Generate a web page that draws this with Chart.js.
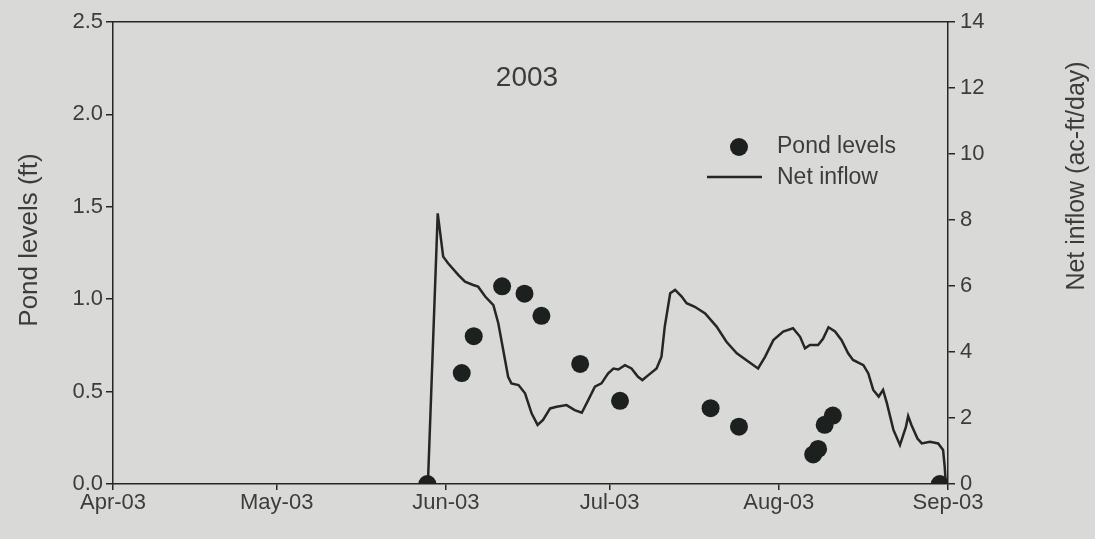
<!DOCTYPE html>
<html>
<head>
<meta charset="utf-8">
<script src="https://cdn.jsdelivr.net/npm/chart.js@4.4.1/dist/chart.umd.min.js"></script>
<style>
  html, body { margin: 0; padding: 0; background: #d9d9d7; }
  #wrap { width: 1095px; height: 539px; }
</style>
</head>
<body>
<div id="wrap"><canvas id="chart" width="1095" height="539"></canvas></div>
<script>
'use strict';

// x values are days counted from 1 Apr 2003
var monthTicks = [0, 30, 61, 91, 122, 153],
	monthLabels = ['Apr-03', 'May-03', 'Jun-03', 'Jul-03', 'Aug-03', 'Sep-03'];

// pond level readings (ft)
var pondDays = [57.6, 63.9, 66.1, 71.3, 75.4, 78.5, 85.6, 92.9, 109.5, 114.7,
		128.3, 129.2, 130.4, 131.9, 151.5],
	pondLevels = [0, 0.6, 0.8, 1.07, 1.03, 0.91, 0.65, 0.45, 0.41, 0.31,
		0.16, 0.19, 0.32, 0.37, 0];

// net inflow (ac-ft/day)
var inflowDays = [57.7, 59.5, 60.5, 61.4, 63.3, 64.5, 66.0, 66.9, 68.2, 69.7,
		70.6, 71.5, 72.4, 73.0, 74.3, 75.5, 76.7, 77.8, 78.8, 80.1,
		81.3, 83.1, 84.6, 85.9, 87.1, 88.3, 89.5, 90.7, 91.7, 92.6,
		93.8, 95.0, 96.2, 97.0, 98.1, 99.6, 100.5, 101.1, 102.1, 103.0,
		104.2, 105.1, 106.6, 108.5, 110.6, 112.4, 114.3, 116.4, 118.2, 119.5,
		121.0, 122.8, 124.6, 125.9, 126.8, 127.7, 129.2, 130.1, 131.1, 132.3,
		133.5, 134.7, 135.6, 137.5, 138.4, 139.3, 140.3, 141.1, 141.8, 143.0,
		144.2, 145.3, 145.7, 146.3, 147.4, 148.2, 149.7, 151.2, 152.1, 152.4,
		152.6],
	inflowValues = [0, 8.2, 6.89, 6.69, 6.33, 6.13, 6.03, 5.98, 5.68, 5.42,
		4.87, 4.06, 3.25, 3.05, 3.0, 2.75, 2.14, 1.79, 1.94, 2.29,
		2.34, 2.39, 2.24, 2.16, 2.55, 2.95, 3.05, 3.35, 3.5, 3.47,
		3.6, 3.5, 3.25, 3.15, 3.3, 3.5, 3.86, 4.77, 5.78, 5.88,
		5.68, 5.48, 5.37, 5.17, 4.77, 4.31, 3.96, 3.71, 3.5, 3.86,
		4.36, 4.62, 4.72, 4.46, 4.11, 4.21, 4.21, 4.4, 4.75, 4.62,
		4.36, 3.96, 3.76, 3.6, 3.35, 2.85, 2.65, 2.85, 2.45, 1.64,
		1.18, 1.74, 2.06, 1.79, 1.38, 1.23, 1.28, 1.23, 1.03, 0.52,
		0];

var FONT = "'Liberation Sans', Arial, sans-serif",
	TEXT = '#3c3c3c',
	INK = '#262626';

function toPoints(xs, ys) {
	return xs.map(function (x, i) {
		return { x: x, y: ys[i] };
	});
}

// background, year label, legend and the two rotated axis titles
var decorations = {
	id: 'decorations',
	beforeDraw: function (chart) {
		var ctx = chart.ctx;
		ctx.save();
		ctx.fillStyle = '#d9d9d7';
		ctx.fillRect(0, 0, chart.width, chart.height);
		ctx.restore();
	},
	afterDraw: function (chart) {
		var ctx = chart.ctx;
		ctx.save();
		ctx.fillStyle = TEXT;
		ctx.textBaseline = 'middle';
		ctx.textAlign = 'center';
		ctx.font = '28px ' + FONT;
		ctx.fillText('2003', 527, 78);

		// legend
		ctx.font = '23px ' + FONT;
		ctx.textAlign = 'left';
		ctx.fillStyle = '#1c2120';
		ctx.beginPath();
		ctx.arc(739, 147, 9, 0, Math.PI * 2);
		ctx.fill();
		ctx.strokeStyle = INK;
		ctx.lineWidth = 2.5;
		ctx.beginPath();
		ctx.moveTo(707, 177);
		ctx.lineTo(762, 177);
		ctx.stroke();
		ctx.fillStyle = TEXT;
		ctx.fillText('Pond levels', 777, 147);
		ctx.fillText('Net inflow', 777, 178);

		// axis titles, both reading upwards
		ctx.font = '26px ' + FONT;
		ctx.textAlign = 'center';
		ctx.translate(30, 240);
		ctx.rotate(-Math.PI / 2);
		ctx.fillText('Pond levels (ft)', 0, 0);
		ctx.setTransform(1, 0, 0, 1, 0, 0);
		ctx.font = '25px ' + FONT;
		ctx.translate(1077, 176);
		ctx.rotate(-Math.PI / 2);
		ctx.fillText('Net inflow (ac-ft/day)', 0, 0);
		ctx.restore();
	}
};

var tickFont = { family: FONT, size: 22 };

new Chart(document.getElementById('chart'), {
	type: 'scatter',
	data: {
		datasets: [{
			label: 'Pond levels',
			data: toPoints(pondDays, pondLevels),
			yAxisID: 'y',
			order: 0,
			pointRadius: 9,
			pointHoverRadius: 9,
			pointBackgroundColor: '#1c2120',
			pointBorderColor: '#1c2120',
			pointBorderWidth: 0
		}, {
			label: 'Net inflow',
			data: toPoints(inflowDays, inflowValues),
			yAxisID: 'y2',
			order: 1,
			showLine: true,
			tension: 0,
			pointRadius: 0,
			borderColor: INK,
			borderWidth: 2.5
		}]
	},
	options: {
		responsive: false,
		animation: false,
		layout: { padding: 0 },
		plugins: {
			legend: { display: false },
			tooltip: { enabled: false }
		},
		scales: {
			x: {
				type: 'linear',
				position: 'bottom',
				min: 0,
				max: 153,
				afterBuildTicks: function (scale) {
					scale.ticks = monthTicks.map(function (v) {
						return { value: v };
					});
				},
				afterFit: function (scale) {
					scale.height = 55;
				},
				ticks: {
					autoSkip: false,
					maxRotation: 0,
					padding: 0,
					color: TEXT,
					font: tickFont,
					callback: function (v) {
						return monthLabels[monthTicks.indexOf(v)];
					}
				},
				grid: { drawOnChartArea: false, tickLength: 6, color: INK, lineWidth: 1.5 },
				border: { color: INK, width: 1.5 }
			},
			xTop: {
				type: 'linear',
				position: 'top',
				min: 0,
				max: 153,
				afterFit: function (scale) {
					scale.height = 22;
				},
				ticks: { display: false },
				grid: { drawOnChartArea: false, drawTicks: false },
				border: { color: INK, width: 1.5 }
			},
			y: {
				position: 'left',
				min: 0,
				max: 2.5,
				afterFit: function (scale) {
					scale.width = 113;
				},
				ticks: {
					stepSize: 0.5,
					padding: 3,
					color: TEXT,
					font: tickFont,
					callback: function (v) {
						return v.toFixed(1);
					}
				},
				grid: { drawOnChartArea: false, tickLength: 7, color: INK, lineWidth: 1.5 },
				border: { color: INK, width: 1.5 }
			},
			y2: {
				position: 'right',
				min: 0,
				max: 14,
				afterFit: function (scale) {
					scale.width = 147;
				},
				ticks: {
					stepSize: 2,
					padding: 5,
					color: TEXT,
					font: tickFont
				},
				grid: { drawOnChartArea: false, tickLength: 7, color: INK, lineWidth: 1.5 },
				border: { color: INK, width: 1.5 }
			}
		}
	},
	plugins: [decorations]
});
</script>
</body>
</html>
